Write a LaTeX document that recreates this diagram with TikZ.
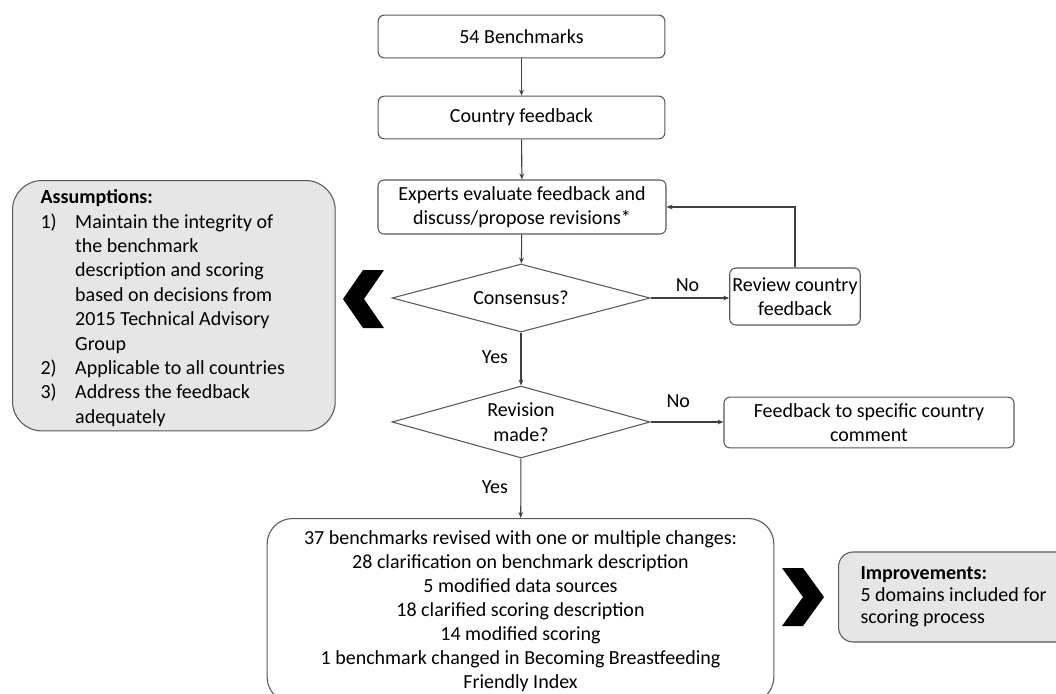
\documentclass[tikz,border=0pt]{standalone}
\usepackage{fontspec}
\setmainfont{Carlito}
\usetikzlibrary{shapes.geometric, arrows.meta, positioning, calc}
\definecolor{boxline}{HTML}{595959}
\definecolor{arrline}{HTML}{404040}
\definecolor{notefill}{HTML}{E7E6E6}

\tikzset{
  flowbox/.style={draw=boxline, line width=0.8pt, rounded corners=4.5pt, fill=white, align=center, inner sep=2pt},
  decision/.style={draw=boxline, line width=0.8pt, diamond, aspect=3.8, inner sep=0pt, align=center, minimum width=193.5pt},
  notebox/.style={draw=boxline, line width=0.8pt, fill=notefill, align=flush left},
  arr/.style={draw=arrline, line width=0.8pt, -{Stealth[length=4.5pt, width=3.5pt]}},
  lbl/.style={font=\fontsize{15}{18.3}\selectfont}
}

\begin{document}
\begin{tikzpicture}[x=0.75pt, y=-0.75pt, font=\fontsize{15}{18.3}\selectfont]
  \clip (0,0) rectangle (1056,693);
  \fill[white] (0,0) rectangle (1056,693);

  % main flow
  \node[flowbox, minimum width=215pt, minimum height=32pt] (bench) at (521.5,36.5) {54 Benchmarks};
  \node[flowbox, minimum width=215pt, minimum height=32pt] (feedback) at (521.5,117.5) {Country feedback};
  \node[flowbox, minimum width=216pt, minimum height=40.5pt] (experts) at (522,207) {Experts evaluate feedback and\\discuss/propose revisions*};
  \node[decision, minimum height=51pt] (consensus) at (521,298) {Consensus?};
  \node[decision, minimum height=54pt] (revision) at (521,422) {Revision\\made?};
  \node[flowbox, minimum width=90pt, minimum height=42.75pt] (review) at (795,296.5) {Review country\\feedback};
  \node[flowbox, minimum width=217.5pt, minimum height=38pt] (fbspec) at (869,422.5) {Feedback to specific country\\comment};
  \node[flowbox, rounded corners=19pt, minimum width=380pt, minimum height=138pt, anchor=north, inner sep=0pt,
        font=\fontsize{15}{18}\selectfont] (revised) at (520.5,518)
    {\rule{0pt}{12pt}37 benchmarks revised with one or multiple changes:\\
     28 clarification on benchmark description\\
     5 modified data sources\\
     18 clarified scoring description\\
     14 modified scoring\\
     1 benchmark changed in Becoming Breastfeeding\\
     Friendly Index};

  % side notes
  \node[notebox, rounded corners=22pt, minimum width=227pt, minimum height=186pt, text width=200pt, inner xsep=21pt, anchor=north west] (assume) at (12,180)
    {\rule{0pt}{14pt}\textbf{Assumptions:}\\
     \makebox[26pt][l]{1)}Maintain the integrity of\\
     \hspace*{26pt}the benchmark\\
     \hspace*{26pt}description and scoring\\
     \hspace*{26pt}based on decisions from\\
     \hspace*{26pt}2015 Technical Advisory\\
     \hspace*{26pt}Group\\
     \makebox[26pt][l]{2)}Applicable to all countries\\
     \makebox[26pt][l]{3)}Address the feedback\\
     \hspace*{26pt}adequately};
  \node[notebox, rounded corners=11pt, minimum width=180pt, minimum height=67.5pt, text width=160pt, inner xsep=16.5pt, anchor=west,
        font=\fontsize{15}{16.5}\selectfont] (improve) at (838,597)
    {\textbf{Improvements:}\\5 domains included for\\scoring process};

  % chevrons
  \fill[black] (384,270) -- (363,270) -- (343,299) -- (363,328) -- (384,328) -- (364,299) -- cycle;
  \fill[black] (782,568) -- (803,568) -- (824,597) -- (803,626) -- (782,626) -- (803,597) -- cycle;

  % connectors
  \draw[arr] (bench) -- (feedback);
  \draw[arr] (feedback) -- (experts);
  \draw[arr] (experts) -- (consensus);
  \draw[arr] (consensus.east) -- node[lbl, above=1pt, pos=.47] {No} (consensus.east -| review.west);
  \draw[arr] (review.north) |- (experts.east);
  \draw[arr] (consensus) -- node[lbl, left=6pt, pos=.46] {Yes} (revision);
  \draw[arr] (revision.east) -- node[lbl, above=7pt, pos=.38] {No} (revision.east -| fbspec.west);
  \draw[arr] (revision) -- node[lbl, left=6pt, pos=.48] {Yes} (revised);
\end{tikzpicture}
\end{document}
